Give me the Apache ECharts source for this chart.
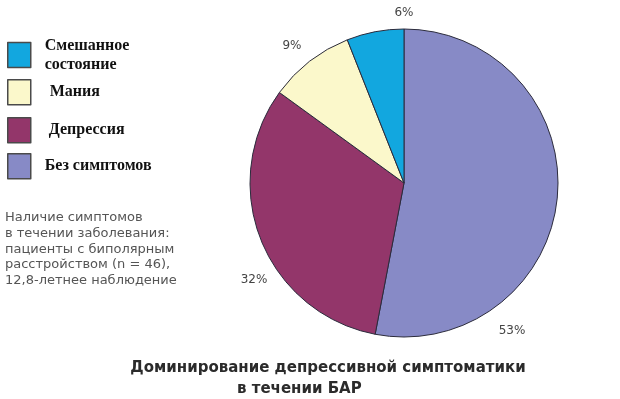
<!DOCTYPE html>
<html>
<head>
<meta charset="utf-8">
<script src="https://cdn.jsdelivr.net/npm/echarts@6/dist/echarts.min.js"></script>
<style>
  html, body { margin: 0; padding: 0; background: #fff; }
  #chart { width: 620px; height: 399px; }
</style>
</head>
<body>
<div id="chart"></div>
<script>
// pie slices, clockwise from 12 o'clock
var categories = ['Без симптомов', 'Депрессия', 'Мания', 'Смешанное состояние'];
var values = [53, 32, 9, 6];
var colors = ['#878ac6', '#93366a', '#fbf8cb', '#12a7df'];

var legendOrder = ['Смешанное состояние', 'Мания', 'Депрессия', 'Без симптомов'];
var noteLines = [
  'Наличие симптомов',
  'в течении заболевания:',
  'пациенты с биполярным',
  'расстройством (n = 46),',
  '12,8-летнее наблюдение'
];
var titleLines = ['Доминирование депрессивной симптоматики', 'в течении БАР'];

var chart = echarts.init(document.getElementById('chart'));

// label spots (pixel) for each slice label, same order as categories
var labelSpots = [[512, 331], [254, 280], [292, 46], [404, 13]];

var legendTops = [36, 79, 117, 153];
var legendPad = [9, 14, 13, 9];

var legends = legendOrder.map(function (name, i) {
  return {
    data: [name],
    orient: 'vertical',
    left: 7,
    top: legendTops[i],
    padding: 0,
    icon: 'rect',
    itemWidth: 23,
    itemHeight: 25,
    selectedMode: false,
    formatter: function (n) {
      return n === 'Смешанное состояние' ? 'Смешанное\nсостояние' : n;
    },
    itemStyle: { borderColor: '#4a4a4a', borderWidth: 1.5 },
    textStyle: {
      fontFamily: 'Liberation Serif',
      fontWeight: 'bold',
      fontSize: 16,
      color: '#111',
      lineHeight: 19,
      padding: [0, 0, 0, legendPad[i]]
    }
  };
});

var option = {
  backgroundColor: '#fff',
  animation: false,
  color: colors,
  title: [
    {
      text: titleLines[0],
      left: 328,
      top: 361,
      textAlign: 'center',
      padding: 0,
      textStyle: { fontFamily: 'DejaVu Sans', fontWeight: 'bold', fontSize: 15, color: '#2b2b2b' }
    },
    {
      text: titleLines[1],
      left: 237,
      top: 382,
      padding: 0,
      textStyle: { fontFamily: 'DejaVu Sans', fontWeight: 'bold', fontSize: 15, color: '#2b2b2b' }
    },
    {
      text: noteLines.join('\n'),
      left: 5,
      top: 210,
      padding: 0,
      textStyle: { fontFamily: 'DejaVu Sans', fontWeight: 'normal', fontSize: 13, color: '#555', lineHeight: 15.7 }
    }
  ],
  legend: legends,
  series: [{
    type: 'pie',
    center: [404, 183],
    radius: 154,
    startAngle: 90,
    clockwise: true,
    silent: true,
    avoidLabelOverlap: false,
    itemStyle: { borderColor: '#2b2b3c', borderWidth: 1 },
    label: {
      show: true,
      position: 'inside',
      formatter: '{c}%',
      fontFamily: 'DejaVu Sans',
      fontSize: 12,
      color: '#444'
    },
    labelLine: { show: false },
    labelLayout: function (p) {
      var s = labelSpots[p.dataIndex];
      return { x: s[0], y: s[1], align: 'center', verticalAlign: 'middle' };
    },
    data: categories.map(function (c, i) {
      return { name: c, value: values[i] };
    })
  }]
};

chart.setOption(option);
</script>
</body>
</html>
